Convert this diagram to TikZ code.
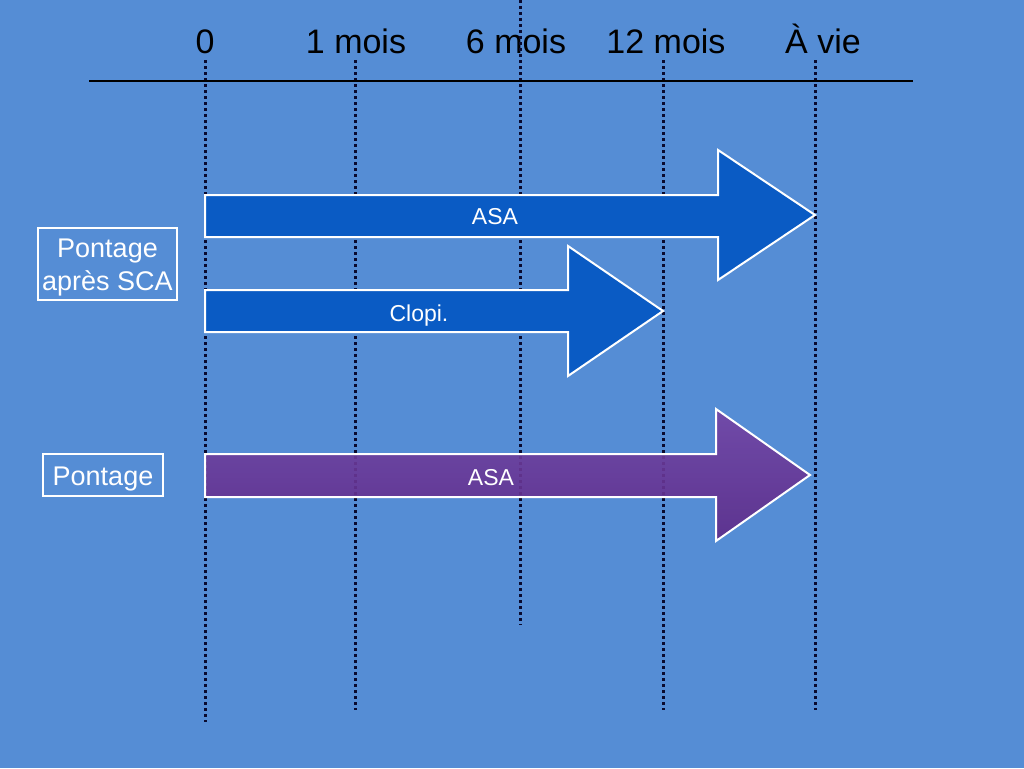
\documentclass[tikz,border=0pt]{standalone}
\usepackage{fontspec}
\setmainfont{Liberation Sans}
\definecolor{bgcol}{HTML}{558DD5}
\definecolor{arrblue}{HTML}{0A5BC4}
\definecolor{purtop}{HTML}{7444A4}
\definecolor{purbot}{HTML}{5E2A88}
\definecolor{dotcol}{HTML}{0A0A2E}
\begin{document}
\begin{tikzpicture}[x=1pt,y=-1pt,
  timeline/.style={draw=dotcol, line width=3pt, dash pattern=on 3pt off 3pt},
  axisline/.style={draw=black, line width=2.5pt},
  toplabel/.style={anchor=base, font=\fontsize{34}{40}\selectfont, text=black, inner sep=0pt},
  bluearrow/.style={fill=arrblue, draw=white, line width=2pt, line join=miter},
  purplearrow/.style={top color=purtop, bottom color=purbot, draw=white, line width=2pt, fill opacity=0.9},
  arrowtext/.style={anchor=base, font=\fontsize{23}{27}\selectfont, text=white, inner sep=0pt},
  groupbox/.style={draw=white, line width=2pt, text=white, inner sep=0pt, align=center, font=\fontsize{27}{33}\selectfont}]
\fill[bgcol] (0,0) rectangle (1024,768);
\useasboundingbox (0,0) rectangle (1024,768);

% top labels
\node[toplabel] (l0) at (205,53) {0};
\node[toplabel] (l1) at (356,53) {1 mois};
\node[toplabel] (l6) at (516,53) {6 mois};
\node[toplabel] (l12) at (666,53) {12 mois};
\node[toplabel] (lv) at (823,53) {À vie};

% dotted time lines
\coordinate (a0) at (205,60);  \coordinate (b0) at (205,722);
\coordinate (a1) at (355,60);  \coordinate (b1) at (355,710);
\coordinate (a6) at (520,0);   \coordinate (b6) at (520,625);
\coordinate (a12) at (663,60); \coordinate (b12) at (663,710);
\coordinate (av) at (815,60);  \coordinate (bv) at (815,710);
\draw[timeline] (a0) -- (b0);
\draw[timeline] (a1) -- (b1);
\draw[timeline] (a6) -- (b6);
\draw[timeline] (a12) -- (b12);
\draw[timeline] (av) -- (bv);

% axis
\coordinate (axl) at (89,81);
\coordinate (axr) at (913,81);
\draw[axisline] (axl) -- (axr);

% arrows
\draw[bluearrow] (205,195) -- (718,195) -- (718,150) -- (815,215) -- (718,280) -- (718,237) -- (205,237) -- cycle;
\draw[bluearrow] (205,290) -- (568,290) -- (568,246) -- (663,311) -- (568,376) -- (568,332) -- (205,332) -- cycle;
\draw[purplearrow] (205,454) -- (716,454) -- (716,409) -- (810,475) -- (716,541) -- (716,497) -- (205,497) -- cycle;

\node[arrowtext] (t1) at (495,224) {ASA};
\node[arrowtext] (t2) at (419,321) {Clopi.};
\node[arrowtext] (t3) at (491,485) {ASA};

% group boxes
\node[groupbox, minimum width=139pt, minimum height=72pt, text height=53pt, text depth=0pt] (g1) at (107.5,264) {Pontage\\après SCA};
\node[groupbox, minimum width=120pt, minimum height=42pt, text height=20pt, text depth=0pt] (g2) at (103,475) {Pontage};
\end{tikzpicture}
\end{document}
